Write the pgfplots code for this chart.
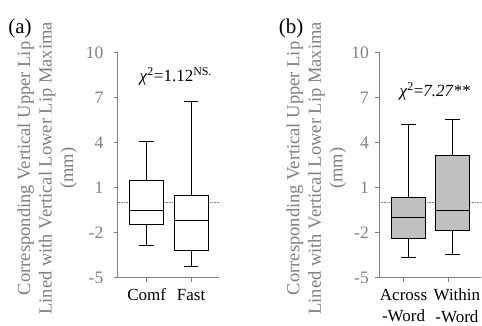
\documentclass[border=0pt]{standalone}
\usepackage{fontspec}
\setmainfont{Liberation Serif}
\usepackage{pgfplots}
\pgfplotsset{compat=1.18}
\usepgfplotslibrary{statistics}
\definecolor{axgray}{RGB}{128,128,128}
\definecolor{boxgray}{RGB}{192,192,192}
\pgfplotsset{
  myax/.style={
    scale only axis, width=102pt, height=225.4pt,
    anchor=south west,
    xmin=0.34, xmax=2.64, ymin=-5, ymax=10,
    axis x line*=bottom, axis y line*=left,
    axis line style={axgray, line width=0.8pt, -},
    ytick={-5,-2,1,4,7,10},
    tick align=outside,
    major tick length=4pt,
    tick style={axgray, line width=0.8pt},
    /pgf/number format/assume math mode=true,
    xticklabel style={text=black, font=\fontsize{17}{21.5}\selectfont, align=center, inner sep=1pt, yshift=-6pt},
    clip=false,
    boxplot/draw direction=y,
    boxplot/box extend=0.77,
    boxplot/whisker extend=0.33,
  },
}
\begin{document}
\begin{tikzpicture}
\useasboundingbox (0pt,0pt) rectangle (482pt,326pt);
\node[font=\fontsize{21}{21}\selectfont] at (20pt,298pt) {(a)};
\node[font=\fontsize{21}{21}\selectfont] at (291pt,298pt) {(b)};
% Panel (a)
\begin{axis}[myax, at={(117.5pt,48.3pt)},
  xtick={1,2},
  xticklabels={Comf,Fast},
  yticklabel style={text=axgray, font=\fontsize{17.5}{17.5}\selectfont, inner sep=1pt, xshift=-9pt},
  ylabel={Corresponding Vertical Upper Lip\\Lined with Vertical Lower Lip Maxima\\(mm)},
  ylabel style={at={(axis description cs:-0.69,0.485)}, anchor=center, align=center, text=axgray, font=\fontsize{18.5}{21.5}\selectfont},
]
\addplot[axgray, densely dotted, line width=0.6pt] coordinates {(0.34,0) (2.64,0)};
\addplot[black, line width=0.8pt, fill=white, boxplot prepared={draw position=1, lower whisker=-2.85, lower quartile=-1.43, median=-0.49, upper quartile=1.46, upper whisker=4.05}] coordinates {};
\addplot[black, line width=0.8pt, fill=white, boxplot prepared={draw position=2, lower whisker=-4.27, lower quartile=-3.2, median=-1.2, upper quartile=0.46, upper whisker=6.76}] coordinates {};
\node[font=\fontsize{17}{17}\selectfont] at (axis cs:1.655,8.39) {\textit{χ}\textsuperscript{2}=1.12\textsuperscript{NS.}};
\end{axis}
% Panel (b)
\begin{axis}[myax, at={(379pt,48.3pt)},
  xtick={0.894},
  xticklabels={Across\\-Word},
  extra x ticks={1.894},
  extra x tick labels={Within\\-Word},
  extra x tick style={xticklabel style={xshift=9pt}},
  yticklabel style={text=axgray, font=\fontsize{17.5}{17.5}\selectfont, inner sep=1pt, xshift=-5pt},
  ylabel={Corresponding Vertical Upper Lip\\Lined with Vertical Lower Lip Maxima\\(mm)},
  ylabel style={at={(axis description cs:-0.613,0.485)}, anchor=center, align=center, text=axgray, font=\fontsize{18.5}{21.5}\selectfont},
]
\addplot[axgray, densely dotted, line width=0.6pt] coordinates {(0.34,0) (2.64,0)};
\addplot[black, line width=0.8pt, fill=boxgray, boxplot prepared={draw position=1, lower whisker=-3.62, lower quartile=-2.38, median=-0.98, upper quartile=0.35, upper whisker=5.23}] coordinates {};
\addplot[black, line width=0.8pt, fill=boxgray, boxplot prepared={draw position=2, lower whisker=-3.47, lower quartile=-1.83, median=-0.49, upper quartile=3.12, upper whisker=5.56}] coordinates {};
\node[font=\fontsize{17}{17}\selectfont] at (axis cs:1.60,7.39) {\textit{χ}\textsuperscript{2}=\textit{7.27**}};
\end{axis}
\end{tikzpicture}
\end{document}
